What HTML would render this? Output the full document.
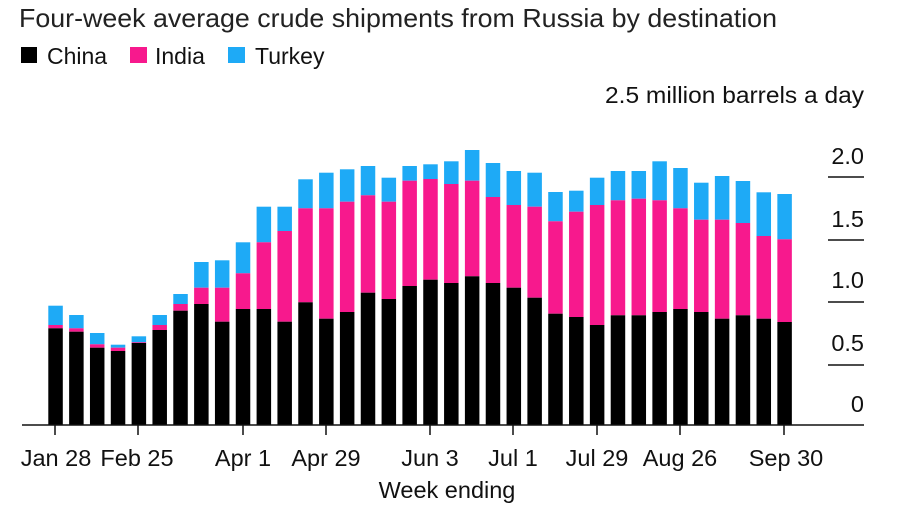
<!DOCTYPE html>
<html><head><meta charset="utf-8"><style>
html,body{margin:0;padding:0;background:#fff;}
svg{display:block;font-family:"Liberation Sans",Arial,sans-serif;}
</style></head><body>
<svg width="900" height="510" viewBox="0 0 900 510" xmlns="http://www.w3.org/2000/svg">
<text x="19" y="27" font-size="26" fill="#222" textLength="758" lengthAdjust="spacingAndGlyphs">Four-week average crude shipments from Russia by destination</text>
<rect x="21" y="47" width="16" height="16" fill="#000"/><text x="47" y="64" font-size="23" fill="#111">China</text>
<rect x="130" y="47" width="17" height="16" fill="#f7198d"/><text x="155" y="64" font-size="23" fill="#111">India</text>
<rect x="228" y="47" width="17" height="16" fill="#1eaaf6"/><text x="255" y="64" font-size="23" fill="#111">Turkey</text>
<g font-size="23.5" fill="#111" text-anchor="end">
<text x="864" y="103" textLength="259" lengthAdjust="spacingAndGlyphs">2.5 million barrels a day</text>
<text x="864" y="164">2.0</text>
<text x="864" y="227">1.5</text>
<text x="864" y="288">1.0</text>
<text x="864" y="351">0.5</text>
<text x="864" y="412">0</text>
</g>
<g stroke="#111" stroke-width="1.5">
<line x1="828" y1="177" x2="864" y2="177"/>
<line x1="828" y1="240" x2="864" y2="240"/>
<line x1="828" y1="302" x2="864" y2="302"/>
<line x1="828" y1="365" x2="864" y2="365"/>
</g>
<g id="bars"></g>
<line x1="22" y1="425" x2="864" y2="425" stroke="#111" stroke-width="1.5"/>
<g stroke="#111" stroke-width="1.5">
<line x1="55" y1="425" x2="55" y2="435"/><line x1="138" y1="425" x2="138" y2="435"/>
<line x1="243" y1="425" x2="243" y2="435"/><line x1="326" y1="425" x2="326" y2="435"/>
<line x1="430" y1="425" x2="430" y2="435"/><line x1="513" y1="425" x2="513" y2="435"/>
<line x1="597" y1="425" x2="597" y2="435"/><line x1="680" y1="425" x2="680" y2="435"/>
<line x1="784" y1="425" x2="784" y2="435"/>
</g>
<g font-size="23.5" fill="#111" text-anchor="middle">
<text x="56" y="466">Jan 28</text><text x="137" y="466">Feb 25</text>
<text x="243" y="466">Apr 1</text><text x="326" y="466">Apr 29</text>
<text x="430" y="466">Jun 3</text><text x="513" y="466">Jul 1</text>
<text x="597" y="466">Jul 29</text><text x="680" y="466">Aug 26</text>
<text x="786" y="466">Sep 30</text>
<text x="447" y="498">Week ending</text>
</g>
<script>
var d=[[328.3,325,305.7],[331.7,328.3,315],[347.7,344.3,333],[351,347.7,344.7],[343,342.3,336.3],[330,325,315],[310.7,304,294],[304,287.7,262],[321.7,287.7,260.3],[309,273.3,242.3],[309,242.3,206.7],[321.7,231,206.7],[302.3,208.3,179.3],[318.7,208.3,172.7],[312,201.7,169.3],[292.7,195.3,166],[299,201.7,177.7],[286,180.7,166],[279.7,179,164.3],[283,184,161.3],[276.3,180.7,150],[283,197,163],[287.7,205,171],[297.7,206.7,172.7],[313.7,221.3,192],[317,211.7,190.7],[325,205,177.7],[315.3,200.3,171],[315.3,198.7,171],[312,200.3,161.3],[309,208.3,168],[312,219.7,182.7],[318.7,219.7,176],[315.3,223,181],[318.7,236,192.3],[322,239.3,194]];
var ns='http://www.w3.org/2000/svg',g=document.getElementById('bars');
d.forEach(function(b,i){var x=48.3+i*20.83,w=14.5;
function r(y1,y2,c){var e=document.createElementNS(ns,'rect');e.setAttribute('x',x);e.setAttribute('y',y1);e.setAttribute('width',w);e.setAttribute('height',Math.max(0,y2-y1));e.setAttribute('fill',c);g.appendChild(e);}
r(b[2],b[1],'#1eaaf6');r(b[1],b[0],'#f7198d');r(b[0],425,'#000');});
</script>
</svg>
</body></html>
